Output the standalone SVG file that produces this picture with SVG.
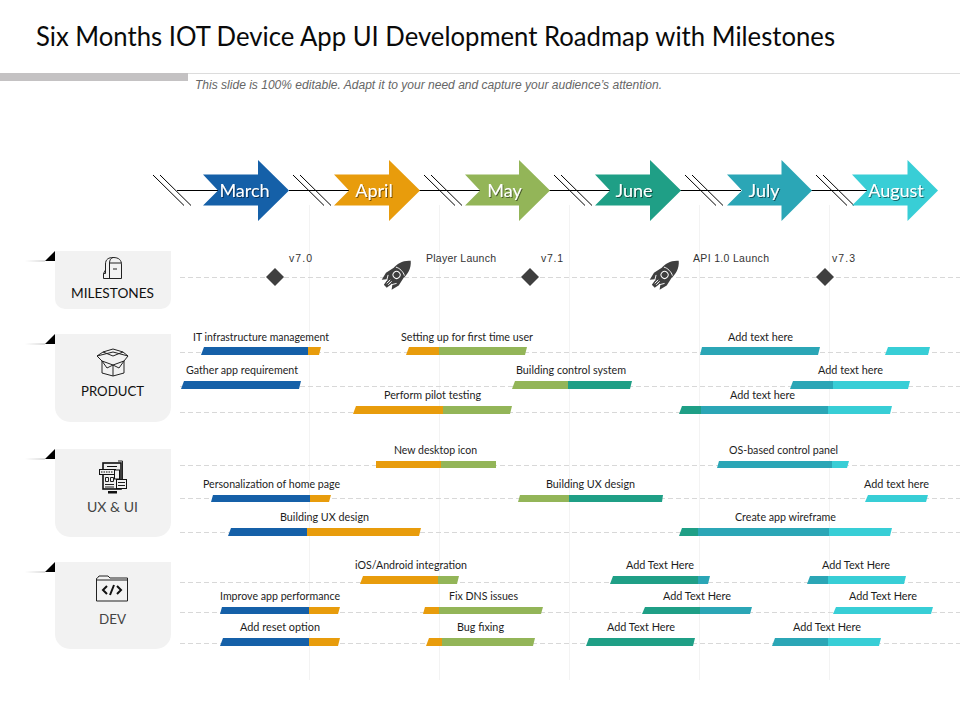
<svg xmlns="http://www.w3.org/2000/svg" width="960" height="720" viewBox="0 0 960 720">
<style>
.t{font-family:"Lato","Liberation Sans",sans-serif;fill:#1d1d1d;font-size:10.5px;text-anchor:middle}
.m{font-family:"Liberation Sans",sans-serif;fill:#333;font-size:10.5px;text-anchor:middle}
.mo{font-family:"Lato","Liberation Sans",sans-serif;fill:#fff;font-size:18px;text-anchor:middle;filter:url(#sh)}
.n{font-family:"Lato","Liberation Sans",sans-serif;font-size:13.5px;text-anchor:middle}
.box{fill:#f2f2f2}
.dash{stroke:#d8d8d8;stroke-width:1;stroke-dasharray:5 3;fill:none}
.grid{stroke:#f3f3f3;stroke-width:1;fill:none}
.ln{stroke:#000;stroke-width:1;fill:none}
.ic{fill:none;stroke:#222;stroke-width:1}
.b{fill:#1560a8}.o{fill:#e89c0c}.g{fill:#93b558}.e{fill:#1f9f86}.s{fill:#2ba6b6}.c{fill:#38ced6}
.d{fill:#3f3f3f}
</style>
<defs>
<filter id="sh" x="-20%" y="-20%" width="140%" height="150%"><feDropShadow dx="1" dy="1" stdDeviation="0.6" flood-color="#000" flood-opacity="0.5"/></filter>
<linearGradient id="fade" x1="0" x2="1" y1="0" y2="0"><stop offset="0" stop-color="#fff"/><stop offset="1" stop-color="#bbb"/></linearGradient>
<g id="rocket">
<path class="d" d="M0-18C6-13 7.500-6 7-1L9 8 7 16 4 12H-4L-7 16-9 8-7-1C-7.500-6-6-13 0-18Z"/>
<path class="d" d="M-3 12H3L2 18H-2Z"/>
<circle cx="0" cy="2" r="3.500" fill="none" stroke="#fff" stroke-width="1"/>
<path d="M-6 -3C-3 -5 3 -5 6 -3M-6 8L-3 13M6 8L3 13M-1 10V15M1 10V15" stroke="#fff" stroke-width="0.900" fill="none"/>
</g>
<g id="tri"><polygon points="0,10 10,10 10,0" fill="#000"/><rect x="-20" y="9.500" width="20" height="1" fill="url(#fade)"/></g>
</defs>

<g id="header">
<text x="36" y="45.500" style="font-family:'Lato','Liberation Sans',sans-serif;font-size:26px;fill:#0a0a0a" textLength="799" lengthAdjust="spacingAndGlyphs">Six Months IOT Device App UI Development Roadmap with Milestones</text>
<rect x="0" y="73" width="188" height="8" fill="#c4c2c3"/>
<rect x="188" y="73" width="772" height="1" fill="#dcdcdc"/>
<text x="195" y="89" style="font-family:'Liberation Sans',sans-serif;font-size:12px;font-style:italic;fill:#666" textLength="467" lengthAdjust="spacingAndGlyphs">This slide is 100% editable. Adapt it to your need and capture your audience’s attention.</text>
</g>

<g id="gridlines">
<path class="grid" d="M309.500 205V680M439.500 205V680M569.500 205V680M699.500 205V680M829.500 205V680"/>
<path class="dash" d="M180 277.500H960M180 352.500H960M180 386.500H960M180 412.500H960M180 465.500H960M180 498.500H960M180 532.500H960M180 582.500H960M180 612.500H960M180 643.500H960"/>
</g>

<g id="connectors">
<path class="ln" d="M177 190.500H218M289 190.500H350M419 190.500H480M549 190.500H611M680 190.500H741M811 190.500H867"/>
<path class="ln" d="M153 175L184 205.500M160 175L191 205.500M293 175L324 205.500M300 175L331 205.500M424 175L455 205.500M431 175L462 205.500M554 175L585 205.500M561 175L592 205.500M685 175L716 205.500M692 175L723 205.500M816 175L847 205.500M823 175L854 205.500"/>
</g>

<g id="month-march"><polygon fill="#1560a8" points="203,174.500 258,174.500 258,160 289,190.500 258,221 258,205.500 203,205.500 218,190.500"/><text class="mo" x="244.500" y="197">March</text></g>
<g id="month-april"><polygon fill="#e89c0c" points="334,174.500 389,174.500 389,160 420,190.500 389,221 389,205.500 334,205.500 349,190.500"/><text class="mo" x="374" y="197">April</text></g>
<g id="month-may"><polygon fill="#93b558" points="465,174.500 519,174.500 519,160 550,190.500 519,221 519,205.500 465,205.500 480,190.500"/><text class="mo" x="504.500" y="197">May</text></g>
<g id="month-june"><polygon fill="#1f9f86" points="595,174.500 650,174.500 650,160 681,190.500 650,221 650,205.500 595,205.500 610,190.500"/><text class="mo" x="634" y="197">June</text></g>
<g id="month-july"><polygon fill="#2ba6b6" points="727,174.500 781.500,174.500 781.500,160 812,190.500 781.500,221 781.500,205.500 727,205.500 742,190.500"/><text class="mo" x="764" y="197">July</text></g>
<g id="month-august"><polygon fill="#38ced6" points="852,174.500 907.500,174.500 907.500,160 938,190.500 907.500,221 907.500,205.500 852,205.500 867,190.500"/><text class="mo" x="896" y="197">August</text></g>

<g id="milestones-node">
<use href="#tri" x="45" y="251"/>
<path class="box" d="M55 251H171V299a10 10 0 0 1-10 10H65a10 10 0 0 1-10-10Z"/>
<path class="ic" d="M105.500 273.500V264C105.500 259 109 257.500 113 257.500C119 257.500 121.500 260 121.500 265V278.500H105.500M109.500 278.500V263C109.500 260 111 258 113 257.500M109.500 263H121.500M105.500 273.500H103.500V278.500H109.500M103.500 273.500L105.500 270M113 269H117"/>
<text class="n" x="112.500" y="298" fill="#111" textLength="83" lengthAdjust="spacingAndGlyphs">MILESTONES</text>
</g>
<g id="product-node">
<use href="#tri" x="45" y="334"/>
<path class="box" d="M55 334H171V407a15 15 0 0 1-15 15H70a15 15 0 0 1-15-15Z"/>
<path class="ic" d="M102 361V373L113 376 124 373V361M113 365V376M102 361L113 365 124 361M102 361L97 356 103 352 113 356 123 352 128 356 124 361M97 356L113 352 128 356M103 352L113 349 123 352M102 361L107 368 113 365 119 368 124 361"/>
<text class="n" x="112.500" y="396" fill="#111" textLength="63" lengthAdjust="spacingAndGlyphs">PRODUCT</text>
</g>
<g id="ux-node">
<use href="#tri" x="45" y="449"/>
<path class="box" d="M55 449H171V522a15 15 0 0 1-15 15H70a15 15 0 0 1-15-15Z"/>
<rect x="103" y="463" width="18" height="26" fill="none" stroke="#111" stroke-width="1.600"/>
<path d="M107 466.500h10" stroke="#111"/>
<path d="M118 461h4.500v22" class="ic"/>
<rect x="99.500" y="469.500" width="16" height="5" fill="#f2f2f2" stroke="#111"/>
<path d="M101 472h12" stroke="#111" stroke-dasharray="1.500 1"/>
<rect x="114.500" y="470" width="5" height="9" fill="#f2f2f2" stroke="#111"/>
<path d="M105.500 477.500h3v4h-3zM110.500 477.500h3v4h-3z" class="ic"/>
<rect x="116.500" y="479.500" width="10" height="9" fill="#f2f2f2" stroke="#111"/>
<path d="M118 482.500h7M118 485.500h7M105 484.500h9M105 487h9" class="ic"/>
<rect x="108" y="491" width="9" height="2.500" fill="#111"/>
<text class="n" x="112.500" y="512" fill="#444" textLength="51" lengthAdjust="spacingAndGlyphs">UX &amp; UI</text>
</g>
<g id="dev-node">
<use href="#tri" x="45" y="562"/>
<path class="box" d="M55 562H171V634a15 15 0 0 1-15 15H70a15 15 0 0 1-15-15Z"/>
<path class="ic" d="M96.500 601V578.500H97L99 576H108L110 578H127.500V601ZM96.500 580H127.500" stroke-width="1.200"/>
<path d="M107 586L103 590 107 594M117 586L121 590 117 594M114 585L110 595" fill="none" stroke="#111" stroke-width="2"/>
<text class="n" x="112.500" y="624" fill="#444" textLength="27" lengthAdjust="spacingAndGlyphs">DEV</text>
</g>

<g id="milestones-row">
<g id="ms-v70"><polygon class="d" points="275,268 284,277 275,286 266,277"/><text class="m" x="300.500" y="262" textLength="23">v7.0</text></g>
<g id="ms-player"><use href="#rocket" transform="translate(398 273.500) rotate(45)"/><text class="m" x="461" y="262" textLength="70">Player Launch</text></g>
<g id="ms-v71"><polygon class="d" points="530,268 539,277 530,286 521,277"/><text class="m" x="552" y="262" textLength="22">v7.1</text></g>
<g id="ms-api"><use href="#rocket" transform="translate(666 273.500) rotate(45)"/><text class="m" x="731" y="262" textLength="76">API 1.0 Launch</text></g>
<g id="ms-v73"><polygon class="d" points="825,268 834,277 825,286 816,277"/><text class="m" x="843.500" y="262" textLength="23">v7.3</text></g>
</g>

<g id="tasks">
<g id="t1"><polygon class="b" points="201,355 204,347 308,347 308,355"/><polygon class="o" points="308,355 308,347 321,347 319,355"/><text class="t" x="261" y="341" textLength="136" lengthAdjust="spacingAndGlyphs">IT infrastructure management</text></g>
<g id="t2"><polygon class="o" points="406,355 409,347 439,347 439,355"/><polygon class="g" points="439,355 439,347 527,347 525,355"/><text class="t" x="467" y="341" textLength="132" lengthAdjust="spacingAndGlyphs">Setting up for first time user</text></g>
<g id="t3"><polygon class="s" points="700,355 702,347 820,347 818,355"/><text class="t" x="760.500" y="341" textLength="65" lengthAdjust="spacingAndGlyphs">Add text here</text></g>
<g id="t4"><polygon class="c" points="885,355 888,347 930,347 928,355"/></g>
<g id="t5"><polygon class="b" points="181,389 184,381 301,381 299,389"/><text class="t" x="242" y="374" textLength="112" lengthAdjust="spacingAndGlyphs">Gather app requirement</text></g>
<g id="t6"><polygon class="g" points="512,389 515,381 568,381 568,389"/><polygon class="e" points="568,389 568,381 632,381 630,389"/><text class="t" x="571" y="374" textLength="110" lengthAdjust="spacingAndGlyphs">Building control system</text></g>
<g id="t7"><polygon class="s" points="790,389 793,381 833,381 833,389"/><polygon class="c" points="833,389 833,381 910,381 908,389"/><text class="t" x="850.500" y="374" textLength="65" lengthAdjust="spacingAndGlyphs">Add text here</text></g>
<g id="t8"><polygon class="o" points="353,414 356,406 443,406 443,414"/><polygon class="g" points="443,414 443,406 512,406 510,414"/><text class="t" x="432.500" y="399" textLength="97" lengthAdjust="spacingAndGlyphs">Perform pilot testing</text></g>
<g id="t9"><polygon class="e" points="679,414 682,406 701,406 701,414"/><polygon class="s" points="701,414 701,406 828,406 828,414"/><polygon class="c" points="828,414 828,406 892,406 890,414"/><text class="t" x="762.500" y="399" textLength="65" lengthAdjust="spacingAndGlyphs">Add text here</text></g>
<g id="t10"><rect class="o" x="376" y="461" width="65" height="7"/><rect class="g" x="441" y="461" width="55" height="7"/><text class="t" x="435.500" y="454" textLength="83" lengthAdjust="spacingAndGlyphs">New desktop icon</text></g>
<g id="t11"><polygon class="s" points="717,468 719,461 832,461 832,468"/><polygon class="c" points="832,468 832,461 849,461 847,468"/><text class="t" x="783.500" y="454" textLength="109" lengthAdjust="spacingAndGlyphs">OS-based control panel</text></g>
<g id="t12"><polygon class="b" points="211,502 213,495 310,495 310,502"/><polygon class="o" points="310,502 310,495 331,495 329,502"/><text class="t" x="271.500" y="488" textLength="137" lengthAdjust="spacingAndGlyphs">Personalization of home page</text></g>
<g id="t13"><polygon class="g" points="518,502 520,495 569,495 569,502"/><polygon class="e" points="569,502 569,495 663,495 662,502"/><text class="t" x="590.500" y="488" textLength="89" lengthAdjust="spacingAndGlyphs">Building UX design</text></g>
<g id="t14"><polygon class="c" points="865,502 868,495 928,495 926,502"/><text class="t" x="896.500" y="488" textLength="65" lengthAdjust="spacingAndGlyphs">Add text here</text></g>
<g id="t15"><polygon class="b" points="228,536 231,528 307,528 307,536"/><polygon class="o" points="307,536 307,528 421,528 419,536"/><text class="t" x="324.500" y="521" textLength="89" lengthAdjust="spacingAndGlyphs">Building UX design</text></g>
<g id="t16"><polygon class="e" points="679,536 682,528 698,528 698,536"/><polygon class="s" points="698,536 698,528 829,528 829,536"/><polygon class="c" points="829,536 829,528 892,528 890,536"/><text class="t" x="785.500" y="521" textLength="101" lengthAdjust="spacingAndGlyphs">Create app wireframe</text></g>
<g id="t17"><polygon class="o" points="360,584 363,576 438,576 438,584"/><polygon class="g" points="438,584 438,576 459,576 457,584"/><text class="t" x="411" y="569" textLength="112" lengthAdjust="spacingAndGlyphs">iOS/Android integration</text></g>
<g id="t18"><polygon class="e" points="610,584 613,576 698,576 698,584"/><polygon class="s" points="698,584 698,576 710,576 708,584"/><text class="t" x="660" y="569" textLength="68" lengthAdjust="spacingAndGlyphs">Add Text Here</text></g>
<g id="t19"><polygon class="s" points="807,584 810,576 828,576 828,584"/><polygon class="c" points="828,584 828,576 906,576 904,584"/><text class="t" x="856" y="569" textLength="68" lengthAdjust="spacingAndGlyphs">Add Text Here</text></g>
<g id="t20"><polygon class="b" points="220,614 222,607 309,607 309,614"/><polygon class="o" points="309,614 309,607 340,607 338,614"/><text class="t" x="280" y="600" textLength="120" lengthAdjust="spacingAndGlyphs">Improve app performance</text></g>
<g id="t21"><polygon class="o" points="423,614 425,607 439,607 439,614"/><polygon class="g" points="439,614 439,607 543,607 541,614"/><text class="t" x="483.500" y="600" textLength="69" lengthAdjust="spacingAndGlyphs">Fix DNS issues</text></g>
<g id="t22"><polygon class="e" points="642,614 645,607 700,607 700,614"/><polygon class="s" points="700,614 700,607 752,607 750,614"/><text class="t" x="697" y="600" textLength="68" lengthAdjust="spacingAndGlyphs">Add Text Here</text></g>
<g id="t23"><polygon class="c" points="833,614 836,607 933,607 931,614"/><text class="t" x="883" y="600" textLength="68" lengthAdjust="spacingAndGlyphs">Add Text Here</text></g>
<g id="t24"><polygon class="b" points="220,646 223,638 309,638 309,646"/><polygon class="o" points="309,646 309,638 340,638 338,646"/><text class="t" x="280" y="631" textLength="80" lengthAdjust="spacingAndGlyphs">Add reset option</text></g>
<g id="t25"><polygon class="o" points="426,646 429,638 442,638 442,646"/><polygon class="g" points="442,646 442,638 535,638 533,646"/><text class="t" x="480.500" y="631" textLength="47" lengthAdjust="spacingAndGlyphs">Bug fixing</text></g>
<g id="t26"><polygon class="e" points="586,646 589,638 695,638 693,646"/><text class="t" x="641" y="631" textLength="68" lengthAdjust="spacingAndGlyphs">Add Text Here</text></g>
<g id="t27"><polygon class="s" points="772,646 775,638 828,638 828,646"/><polygon class="c" points="828,646 828,638 881,638 879,646"/><text class="t" x="827" y="631" textLength="68" lengthAdjust="spacingAndGlyphs">Add Text Here</text></g>
</g>
</svg>
